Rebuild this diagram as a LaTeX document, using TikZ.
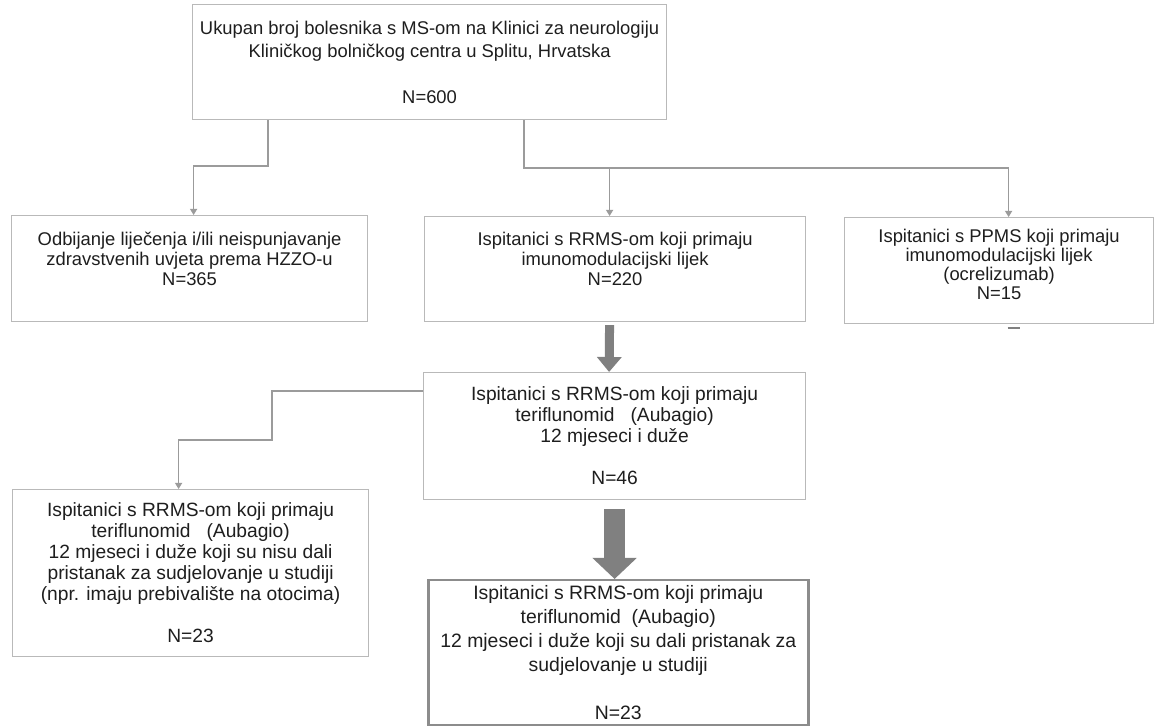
\documentclass[tikz,border=0pt]{standalone}
\usepackage{fontspec}
\setmainfont{Liberation Sans}
\usetikzlibrary{arrows.meta}
\definecolor{FlowLine}{RGB}{155,155,155}
\definecolor{FlowBox}{RGB}{185,185,185}
\definecolor{FlowFinal}{RGB}{140,140,140}
\definecolor{FlowFat}{RGB}{128,128,128}
\definecolor{FlowText}{RGB}{30,30,30}

\begin{document}
\begin{tikzpicture}[x=0.5pt,y=-0.5pt,>=Latex]
\tikzstyle{box}=[draw=FlowBox,line width=0.6pt,fill=white,anchor=north west,inner sep=0pt,align=center,text=FlowText,font=\fontsize{9.2}{10}\selectfont]
\tikzstyle{final}=[box,draw=FlowFinal,line width=1.25pt]
\tikzstyle{conn}=[draw=FlowLine,line width=0.55pt,-{Triangle[width=3.5pt,length=3pt]}]
\tikzstyle{fat}=[draw=FlowFat,line width=4.5pt,-{Triangle[width=12pt,length=7.5pt]}]
\tikzstyle{fatter}=[draw=FlowFat,line width=10.5pt,-{Triangle[width=21.5pt,length=10.5pt]}]
\fill[white] (0,0) rectangle (1162,726);
\useasboundingbox (0,0) rectangle (1162,726);
\node[box,minimum width=237pt,minimum height=57.5pt,font=\fontsize{9.2}{11.5}\selectfont] (total) at (192,4) {Ukupan broj bolesnika s MS-om na Klinici za neurologiju\\Kliničkog bolničkog centra u Splitu, Hrvatska\\[11.5pt]N=600};
\node[box,minimum width=178pt,minimum height=53pt] (odbij) at (11,215) {Odbijanje liječenja i/ili neispunjavanje\\zdravstvenih uvjeta prema HZZO-u\\N=365\\~};
\node[box,minimum width=190.5pt,minimum height=52.5pt] (rrms) at (424,216) {Ispitanici s RRMS-om koji primaju\\imunomodulacijski lijek\\N=220\\~};
\node[box,minimum width=154.5pt,minimum height=53pt,font=\fontsize{9.2}{9.5}\selectfont] (ppms) at (844,217) {Ispitanici s PPMS koji primaju\\imunomodulacijski lijek\\(ocrelizumab)\\N=15\\[-3pt]~};
\node[box,minimum width=191pt,minimum height=63.5pt,font=\fontsize{9.6}{10.5}\selectfont] (ter) at (423,372) {Ispitanici s RRMS-om koji primaju\\teriflunomid\ \ \ (Aubagio)\\12 mjeseci i duže\\[10.5pt]N=46};
\node[box,minimum width=178pt,minimum height=83.5pt,font=\fontsize{9.6}{10.5}\selectfont] (nisu) at (12,489) {Ispitanici s RRMS-om koji primaju\\teriflunomid\ \ \ (Aubagio)\\12 mjeseci i duže koji su nisu dali\\pristanak za sudjelovanje u studiji\\(npr. imaju prebivalište na otocima)\\[10.5pt]N=23};
\node[final,minimum width=190pt,minimum height=72.5pt,font=\fontsize{9.7}{12}\selectfont] (dali) at (427,579) {Ispitanici s RRMS-om koji primaju\\teriflunomid\ \ (Aubagio)\\12 mjeseci i duže koji su dali pristanak za\\sudjelovanje u studiji\\[12pt]N=23};
\coordinate (s1) at (268,166);
\coordinate (s2) at (524,168);
\coordinate (s3) at (272,440);
\coordinate (rin) at ([xshift=-2.75pt]rrms.north);
\draw[conn] (s1 |- total.south) -- (s1) -| ([xshift=2pt]odbij.north);
\draw[conn] (s2 |- total.south) -- (s2) -| ([xshift=4.75pt]ppms.north);
\draw[conn] (rin |- s2) -- (rin);
\draw[conn] ([yshift=-9.5pt]ter.north west) -| (s3) -| ([xshift=-6pt]nisu.north);
\draw[fat,shorten <=1.5pt] ([xshift=-2.75pt]rrms.south) -- ([xshift=-2.75pt]ter.north);
\draw[fatter,shorten <=4.5pt] (ter.south) -- (ter.south |- dali.north);
\draw[FlowFat,line width=1pt] ([xshift=4.25pt,yshift=-2pt]ppms.south) -- +(12,0);
\end{tikzpicture}
\end{document}
